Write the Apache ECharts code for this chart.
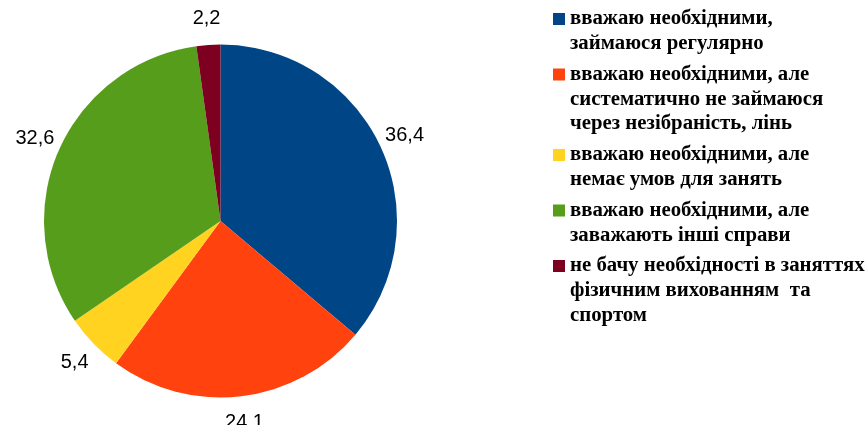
<!DOCTYPE html>
<html>
<head>
<meta charset="utf-8">
<script src="https://cdn.jsdelivr.net/npm/echarts@6/dist/echarts.min.js"></script>
<style>
  html, body { margin: 0; padding: 0; background: #fff; }
  #chart { width: 865px; height: 425px; }
</style>
</head>
<body>
<div id="chart"></div>
<script>
// категорії (з переносами рядків як у легенді)
const categories = [
    'вважаю необхідними,\nзаймаюся регулярно',
    'вважаю необхідними, але\nсистематично не займаюся\nчерез незібраність, лінь',
    'вважаю необхідними, але\nнемає умов для занять',
    'вважаю необхідними, але\nзаважають інші справи',
    'не бачу необхідності в заняттях\nфізичним вихованням  та\nспортом'
];
const values = [36.4, 24.1, 5.4, 32.6, 2.2];
const colors = ['#004586', '#ff420e', '#ffd320', '#579d1c', '#7e0021'];

const pieCenter = [220.5, 221];
const lineH = 24.8;

const pieData = categories.map((name, i) => ({
    name: name,
    value: values[i],
    itemStyle: { color: colors[i] }
}));

// легенда: окремий блок на кожен пункт, щоб квадрат стояв біля першого рядка
let legendTop = 6.5;
const legends = categories.map((name) => {
    const lines = name.split('\n').length;
    const h = 12 + (lines - 1) * lineH;
    const lg = {
        data: [name],
        orient: 'vertical',
        left: 553,
        top: legendTop,
        padding: 0,
        itemWidth: 12,
        itemHeight: h,
        icon: 'path://M0,0H12V12H0Z M0,' + h + 'H12',
        selectedMode: false,
        textStyle: {
            fontFamily: 'Liberation Serif',
            fontWeight: 'bold',
            fontSize: 20.8,
            lineHeight: lineH,
            color: '#000'
        }
    };
    legendTop += lines * lineH + 6;
    return lg;
});

const myChart = echarts.init(document.getElementById('chart'), null, { renderer: 'canvas' });
const option = {
    animation: false,
    backgroundColor: '#fff',
    legend: legends,
    series: [
        {
            type: 'pie',
            center: pieCenter,
            radius: 176.5,
            startAngle: 90,
            silent: true,
            label: { show: false },
            labelLine: { show: false },
            data: pieData
        },
        {
            // прозоре кільце лише для підписів значень
            type: 'pie',
            center: pieCenter,
            radius: [160, 240],
            startAngle: 90,
            silent: true,
            itemStyle: { color: 'rgba(0,0,0,0)' },
            label: {
                show: true,
                position: 'inside',
                color: '#000',
                fontFamily: 'Liberation Sans',
                fontSize: 20,
                formatter: (p) => String(p.value).replace('.', ',')
            },
            labelLine: { show: false },
            data: categories.map((name, i) => ({ name: name, value: values[i] }))
        }
    ]
};
myChart.setOption(option);
</script>
</body>
</html>
